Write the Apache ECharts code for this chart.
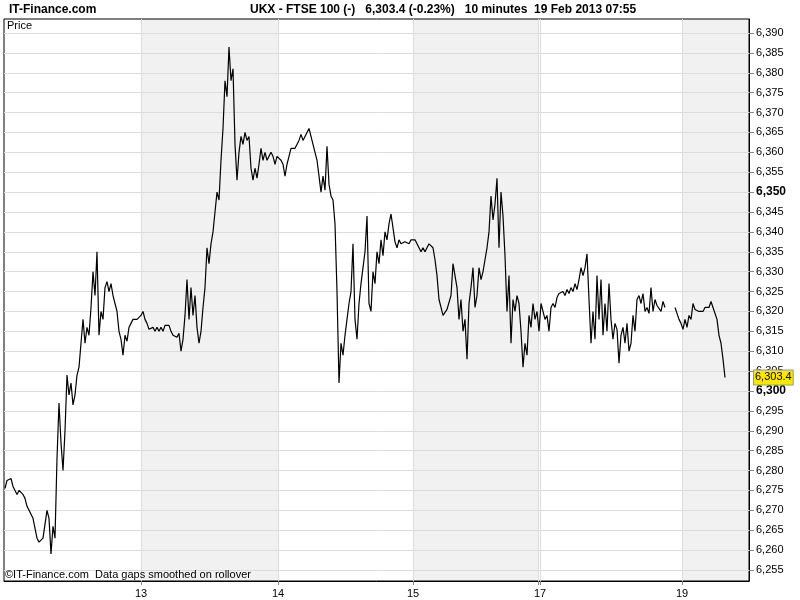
<!DOCTYPE html>
<html><head><meta charset="utf-8">
<script src="https://cdn.jsdelivr.net/npm/echarts@6/dist/echarts.min.js"></script>
<style>html,body{margin:0;padding:0;background:#fff}#c{width:800px;height:600px}</style>
</head><body><div id="c"></div>
<script>
// 10-minute closes, one value per bar (bar index = x)
const prices = [
6275.5,6277.5,6277,6278,6276,6275,6274,6275,6274.5,6274,
6273,6271,6270.5,6269,6268,6267.5,6263,6262,6261.5,6263,
6262.5,6270,6268,6259,6266,6263,6283,6297,6287,6280,
6290,6304,6299,6302,6296.5,6299,6304,6306,6312,6318,
6312,6316,6314,6321,6330,6324,6335,6314,6320,6318,
6326,6327.5,6325,6327,6324,6322,6320,6315,6313,6309,
6314,6312.5,6316,6317,6318,6318,6318,6318,6319,6320,
6318,6317,6315.5,6315,6316,6315,6316,6315,6316,6315,
6316.5,6316,6316.5,6315,6314,6314.5,6313.5,6314.5,6310,6313,
6319,6328,6318,6326,6319,6324,6316,6312,6315,6321,
6326,6336,6332,6337,6340,6345,6350,6348,6358,6366,
6378,6374,6386.5,6378,6381,6362,6353,6360,6364,6362,
6365,6363,6364,6356,6353,6356,6353.5,6357,6361,6358,
6360,6358,6359,6360,6359,6357,6359,6358.5,6358,6357,
6354,6357,6359,6361,6360.5,6361,6361,6363,6364.5,6363,
6364,6365,6366,6364,6362,6360,6358,6354,6350,6354,
6350.5,6361.5,6352,6349,6348,6342,6325,6302,6312,6309,
6314,6318,6322,6325,6337,6318,6313,6322,6327,6331,
6335,6344,6322,6320,6330,6327,6335,6332,6338,6334,
6340,6338,6342,6344.5,6341,6337.5,6336,6338,6337,6337.5,
6337.5,6338,6337,6338,6338.5,6338,6337,6336,6335,6336,
6335,6335.5,6337,6336.5,6336,6333,6329,6323,6321,6319,
6318.5,6320.5,6321,6324,6332,6329,6326,6318,6323,6315,
6318,6308,6322,6326,6331,6321,6324,6331,6328,6330,
6333,6336,6340,6349,6343,6347,6353.5,6336,6350,6344,
6334,6320,6329,6312,6323,6320,6324,6322,6315,6306,
6312,6309,6319,6316,6322,6318,6320,6315,6322,6320,
6318,6319,6315,6321,6322,6321,6323.5,6324.5,6324,6325,
6324,6325.5,6324.5,6326,6325,6327,6325.5,6328,6331,6329,
6331,6334.5,6323,6312,6320,6313,6329,6318,6328,6314,
6322,6315,6327,6318,6313,6317,6315.5,6307,6314,6316,
6312,6317,6310,6312,6319,6315,6323,6324,6322,6324.5,
6320,6321,6319.5,6326,6320,6323,6321.5,6321,6320,6322.5,
6321,null,null,null,null,6321,6319.5,6318,6317,6315.5,
6318,6316,6319,6318,6322,6320.5,6321,6320,6320.5,6320,
6321,6320.5,6321,6322.5,6321,6320.5,6318,6314,6312,6308,
6303.4
];
const dayLabels = ['13','14','15','17','19'];
const dayBreaks = [68, 136.5, 204, 267.5, 338.5];
const weekendBreak = 266.5;
const shadedDays = [[68, 136.5], [204, 266.5], [338.5, 372]];
const yTicks = [6255,6260,6265,6270,6275,6280,6285,6290,6295,6300,6305,6310,6315,6320,6325,6330,6335,6340,6345,6350,6355,6360,6365,6370,6375,6380,6385,6390];
const boldTicks = [6300, 6350];
const lastPrice = 6303.4;
const titleSite = 'IT-Finance.com';
const titleMain = 'UKX - FTSE 100 (-)   6,303.4 (-0.23%)   10 minutes  19 Feb 2013 07:55';
const panelLabel = 'Price';
const footer = '©IT-Finance.com  Data gaps smoothed on rollover';

const FONT = "'Liberation Sans', Arial, sans-serif";
const fmt = v => Number(v).toLocaleString('en-US', {maximumFractionDigits: 1});
const chart = echarts.init(document.getElementById('c'), null, {renderer: 'canvas'});
chart.setOption({
  animation: false,
  backgroundColor: '#fff',
  grid: {left: 4, right: 51, top: 19, bottom: 19, show: true, borderColor: '#000', borderWidth: 1, z: 2},
  xAxis: {
    type: 'value', min: -0.5, max: 372, z: 2,
    axisLine: {show: true, onZero: false, lineStyle: {color: '#000'}},
    axisTick: {show: true, length: 4, lineStyle: {color: '#7a8898'}, customValues: dayBreaks.concat([weekendBreak])},
    axisLabel: {customValues: dayBreaks, formatter: v => dayLabels[dayBreaks.indexOf(v)] || '', color: '#000', fontSize: 11, fontFamily: FONT, margin: 7},
    splitLine: {show: true, lineStyle: {color: '#dcdcdc', width: 1}}
  },
  yAxis: {
    type: 'value', position: 'right', min: 6252.23, max: 6393.52, z: 2,
    axisLine: {show: true, onZero: false, lineStyle: {color: '#000'}},
    axisTick: {show: true, length: 5, lineStyle: {color: '#7a8898'}, customValues: yTicks},
    axisLabel: {
      customValues: yTicks, margin: 7, color: '#000', fontSize: 11, fontFamily: FONT,
      formatter: v => boldTicks.indexOf(v) >= 0 ? '{b|' + fmt(v) + '}' : fmt(v),
      rich: {b: {fontWeight: 'bold', fontSize: 12, fontFamily: FONT, color: '#000'}}
    },
    splitLine: {show: true, lineStyle: {color: '#dcdcdc', width: 1}}
  },
  series: [{
    type: 'line', z: 3, showSymbol: false, symbol: 'none', connectNulls: false,
    data: prices.map((p, i) => [i, p]),
    lineStyle: {color: '#000', width: 1.2},
    markArea: {silent: true, itemStyle: {color: '#f1f1f1'},
      data: shadedDays.map(d => [{xAxis: d[0]}, {xAxis: d[1]}])},
    markLine: {silent: true, symbol: 'none', lineStyle: {color: 'rgba(0,0,0,0)', width: 1, type: 'solid'},
      data: [{yAxis: lastPrice}],
      label: {show: true, position: 'end', distance: 5, formatter: () => fmt(lastPrice),
        backgroundColor: '#ffe600', borderColor: '#8a9aaa', borderWidth: 1, padding: [2, 1, 1, 1],
        color: '#000', fontSize: 11, fontFamily: FONT}}
  }],
  graphic: [
    {type: 'text', left: 9, top: 4, z: 10, style: {text: titleSite, font: 'bold 12px ' + FONT, fill: '#000'}},
    {type: 'text', left: 250, top: 4, z: 10, style: {text: titleMain, font: 'bold 12px ' + FONT, fill: '#000'}},
    {type: 'text', left: 7, top: 20, z: 10, style: {text: panelLabel, font: '11px ' + FONT, fill: '#000'}},
    {type: 'text', left: 5, top: 569, z: 10, style: {text: footer, font: '11px ' + FONT, fill: '#000'}}
  ]
});
</script></body></html>
